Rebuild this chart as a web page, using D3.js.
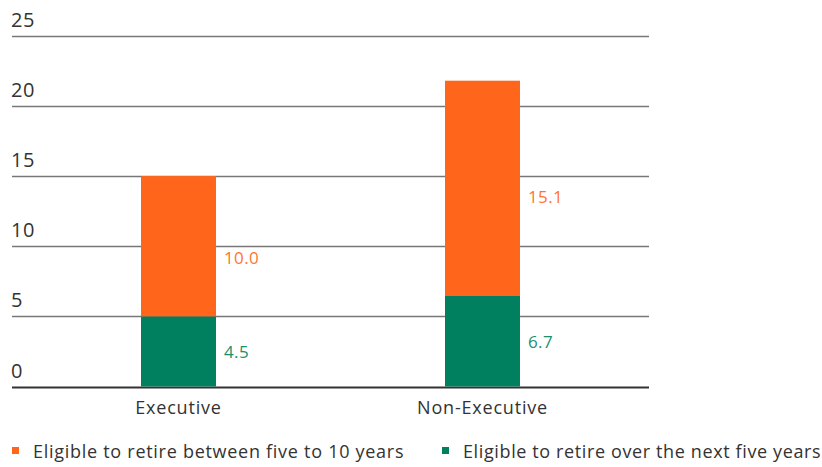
<!DOCTYPE html>
<html>
<head>
<meta charset="utf-8">
<script src="https://cdn.jsdelivr.net/npm/d3@7"></script>
<style>
  html, body { margin: 0; padding: 0; background: #fff; }
  svg { display: block; font-family: "Open Sans", "Noto Sans", sans-serif; }
</style>
</head>
<body>
<svg id="chart" width="822" height="467"></svg>
<script>
// ---- Data ----
const categories = ["Executive", "Non-Executive"];
const seriesNames = ["Eligible to retire over the next five years", "Eligible to retire between five to 10 years"];
// bar heights as drawn in the picture
const nextFive = [5.0, 6.5];
const fiveToTen = [10.0, 15.3];
// value labels as printed
const nextFiveLabels = ["4.5", "6.7"];
const fiveToTenLabels = ["10.0", "15.1"];
const yTicks = [0, 5, 10, 15, 20, 25];
const legendOrder = ["Eligible to retire between five to 10 years", "Eligible to retire over the next five years"];

const colors = {
  "Eligible to retire over the next five years": "#00805F",
  "Eligible to retire between five to 10 years": "#FF661C"
};
const labelColors = {
  "Eligible to retire over the next five years": "#1E8F6B",
  "Eligible to retire between five to 10 years": "#FF7530"
};

const svg = d3.select("#chart");
const plotLeft = 12, plotRight = 649;

const y = d3.scaleLinear().domain([0, 25]).range([386.5, 35.8]);
const x = d3.scaleBand().domain(categories).range([26.5, 634.5]).paddingInner(0).paddingOuter(0);
const barW = 75;

// gridlines
const grid = svg.append("g");
yTicks.forEach(t => {
  grid.append("line")
    .attr("x1", plotLeft).attr("x2", plotRight)
    .attr("y1", Math.round(y(t)) + 0.5).attr("y2", Math.round(y(t)) + 0.5)
    .attr("stroke", t === 0 ? "#333" : "#777")
    .attr("stroke-width", t === 0 ? 2 : 1.6);
});
// y tick labels
grid.selectAll("text.ytick").data(yTicks).enter().append("text")
  .attr("class", "ytick")
  .attr("x", plotLeft - 1)
  .attr("y", d => y(d) - 9)
  .attr("fill", "#333")
  .attr("font-size", 20)
  .attr("letter-spacing", 0.5)
  .text(d => d);

// stacked data
const rows = categories.map((c, i) => ({
  cat: c,
  [seriesNames[0]]: nextFive[i],
  [seriesNames[1]]: fiveToTen[i]
}));
const stack = d3.stack().keys(seriesNames)(rows);
const labelTexts = {
  [seriesNames[0]]: nextFiveLabels,
  [seriesNames[1]]: fiveToTenLabels
};

const layers = svg.append("g").selectAll("g").data(stack).enter().append("g")
  .attr("fill", d => colors[d.key]);
layers.selectAll("rect").data(d => d).enter().append("rect")
  .attr("x", d => x.bandwidth() / 2 + x(d.data.cat) - barW / 2)
  .attr("y", d => y(d[1]))
  .attr("width", barW)
  .attr("height", d => y(d[0]) - y(d[1]));

// value labels
stack.forEach(layer => {
  layer.forEach((d, i) => {
    const isTop = layer.key === seriesNames[1];
    svg.append("text")
      .attr("x", x(d.data.cat) + x.bandwidth() / 2 + barW / 2 + 8)
      .attr("y", (y(d[0]) + y(d[1])) / 2 + (isTop ? (i === 0 ? 18 : 15) : 7))
      .attr("fill", labelColors[layer.key])
      .attr("font-size", 17)
      .attr("letter-spacing", 0.4)
      .text(labelTexts[layer.key][i]);
  });
});

// category axis labels
svg.append("g").selectAll("text").data(categories).enter().append("text")
  .attr("x", d => x(d) + x.bandwidth() / 2)
  .attr("y", 414)
  .attr("text-anchor", "middle")
  .attr("fill", "#333")
  .attr("font-size", 18)
  .attr("letter-spacing", 0.8)
  .text(d => d);

// legend
const legendX = [12, 442];
const leg = svg.append("g");
legendOrder.forEach((name, i) => {
  leg.append("rect")
    .attr("x", legendX[i]).attr("y", 447)
    .attr("width", 7).attr("height", 7)
    .attr("fill", colors[name]);
  leg.append("text")
    .attr("x", legendX[i] + 21)
    .attr("y", 458)
    .attr("fill", "#333")
    .attr("font-size", 18)
    .attr("letter-spacing", i === 0 ? 0.72 : 0.62)
    .text(name);
});
</script>
</body>
</html>
